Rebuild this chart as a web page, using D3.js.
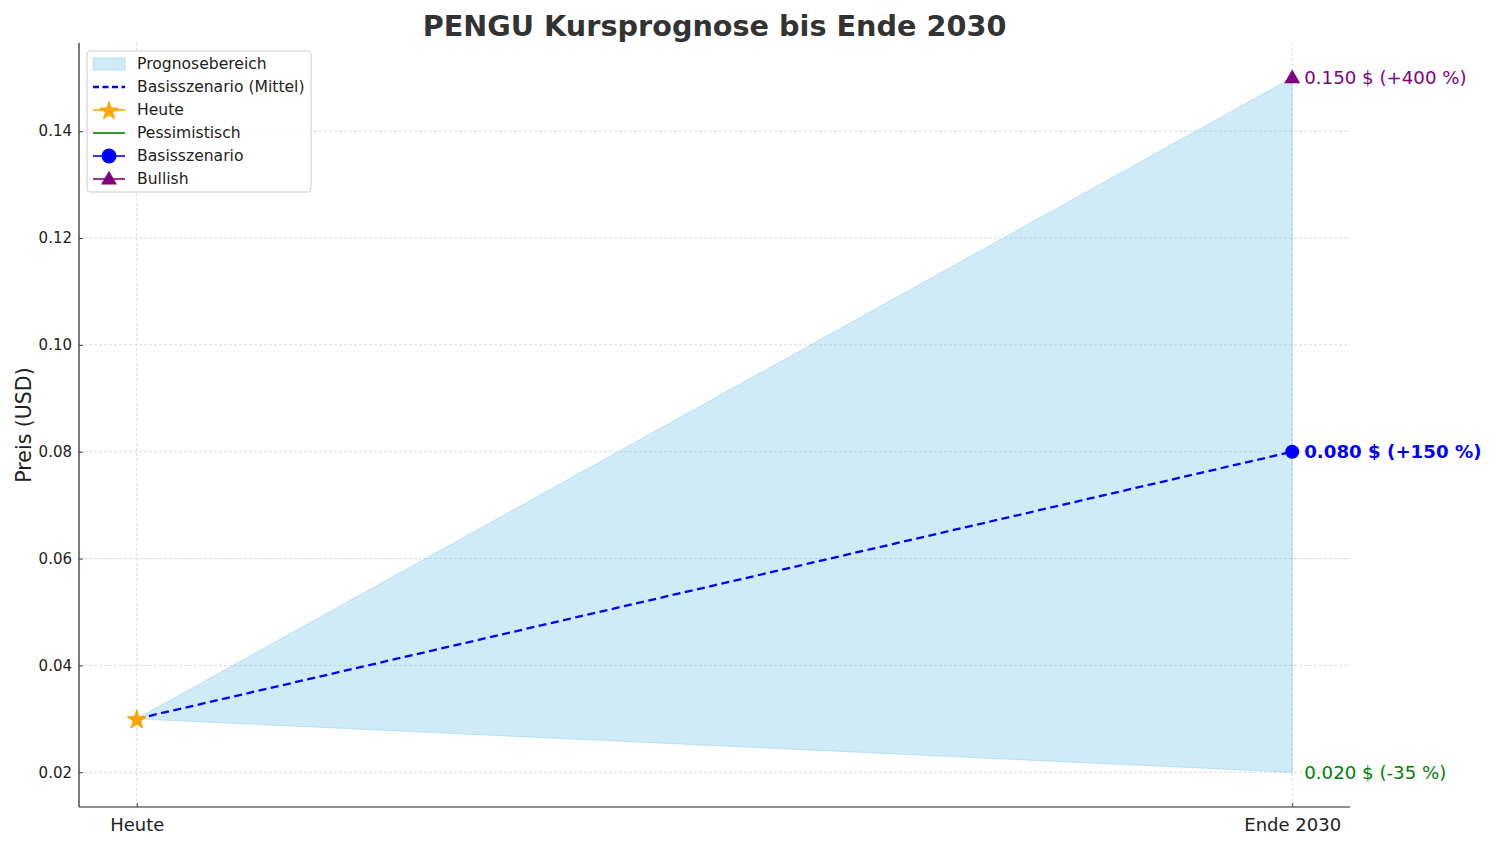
<!DOCTYPE html>
<html><head><meta charset="utf-8">
<script src="https://cdn.jsdelivr.net/npm/d3@7"></script>
<style>body{margin:0;background:#fff;font-family:"DejaVu Sans",sans-serif;}</style>
</head><body><svg id="c" width="1500" height="844"></svg>
<script>
const categories = ["Heute", "Ende 2030"];
const basePrice = [0.03, 0.08];
const lowPrice = [0.03, 0.02];
const highPrice = [0.03, 0.15];
const yTicks = [0.02, 0.04, 0.06, 0.08, 0.10, 0.12, 0.14];
const scenarioNames = ["Pessimistisch", "Basisszenario", "Bullish"];
const scenarioValues = [0.02, 0.08, 0.15];
const scenarioLabels = ["0.020 $ (-35 %)", "0.080 $ (+150 %)", "0.150 $ (+400 %)"];
const legendLabels = ["Prognosebereich", "Basisszenario (Mittel)", "Heute", "Pessimistisch", "Basisszenario", "Bullish"];

const svg = d3.select("#c");
const L = 79, R = 1350, T = 43, B = 807;
const x = d3.scaleLinear().domain([-0.05, 1.05]).range([L, R]);
const y = d3.scaleLinear().domain([0.0135, 0.1565]).range([B, T]);
const xi = i => x(i);

// grid
const g = svg.append("g");
g.selectAll("line.gy").data(yTicks).join("line")
  .attr("x1", L).attr("x2", R).attr("y1", d => y(d)).attr("y2", d => y(d))
  .attr("stroke", "#d0d0d0").attr("stroke-width", 0.8).attr("stroke-dasharray", "3,2");
g.selectAll("line.gx").data(categories).join("line")
  .attr("x1", (d, i) => xi(i)).attr("x2", (d, i) => xi(i)).attr("y1", T).attr("y2", B)
  .attr("stroke", "#d0d0d0").attr("stroke-width", 0.8).attr("stroke-dasharray", "3,2");

// area
const area = d3.area().x((d, i) => xi(i)).y0((d, i) => y(lowPrice[i])).y1((d, i) => y(highPrice[i]));
svg.append("path").datum(categories).attr("d", area)
  .attr("fill", "rgba(135,206,235,0.4)").attr("stroke", "rgba(135,206,235,0.5)").attr("stroke-width", 1);

// base line
const line = d3.line().x((d, i) => xi(i)).y(d => y(d));
svg.append("path").datum(basePrice).attr("d", line)
  .attr("fill", "none").attr("stroke", "#0000ff").attr("stroke-width", 2.3).attr("stroke-dasharray", "8,4.5");

// axes
const yAxis = d3.axisLeft(y).tickValues(yTicks).tickFormat(d3.format(".2f")).tickSize(-4).tickPadding(7);
const ya = svg.append("g").attr("transform", `translate(${L},0)`).call(yAxis);
ya.select(".domain").attr("d", `M0,${T}V${B}`).attr("stroke", "#222").attr("stroke-width", 1.2);
ya.selectAll("text").attr("font-size", 15).attr("fill", "#222").attr("font-family", "DejaVu Sans");
ya.selectAll(".tick line").attr("stroke", "#444");
const xAxis = d3.axisBottom(x).tickValues([0, 1]).tickFormat(i => categories[i]).tickSize(-4).tickPadding(11);
const xa = svg.append("g").attr("transform", `translate(0,${B})`).call(xAxis);
xa.select(".domain").attr("d", `M${L},0H${R}`).attr("stroke", "#222").attr("stroke-width", 1.2);
xa.selectAll("text").attr("font-size", 18).attr("fill", "#222").attr("font-family", "DejaVu Sans");
xa.selectAll(".tick line").attr("stroke", "#444");

// markers
const star = d3.symbol().type(d3.symbolStar).size(105);
svg.append("path").attr("d", star).attr("transform", `translate(${xi(0)},${y(basePrice[0]) + 1})`)
  .attr("fill", "#FFA500").attr("stroke", "#FFA500").attr("stroke-width", 1.2).attr("stroke-linejoin", "round");
svg.append("circle").attr("cx", xi(1)).attr("cy", y(scenarioValues[1])).attr("r", 7).attr("fill", "#0000ff");
const tri = d3.symbol().type(d3.symbolTriangle).size(110);
svg.append("path").attr("d", tri).attr("transform", `translate(${xi(1)},${y(scenarioValues[2]) + 1})`).attr("fill", "#800080");

// labels
const lblColors = ["#008000", "#0000ff", "#800080"];
scenarioLabels.forEach((t, i) => {
  svg.append("text").attr("x", xi(1) + 12).attr("y", y(scenarioValues[i])).attr("dy", "0.35em")
    .attr("font-size", 18.2).attr("fill", lblColors[i]).attr("font-weight", i === 1 ? "bold" : "normal").text(t);
});

// title & y label
svg.append("text").attr("x", (L + R) / 2).attr("y", 36).attr("text-anchor", "middle")
  .attr("font-size", 28.7).attr("font-weight", "bold").attr("fill", "#333").text("PENGU Kursprognose bis Ende 2030");
svg.append("text").attr("transform", `translate(31,${(T + B) / 2}) rotate(-90)`).attr("text-anchor", "middle")
  .attr("font-size", 20.5).attr("fill", "#222").text("Preis (USD)");

// legend
const lg = svg.append("g").attr("transform", "translate(87,51)");
lg.append("rect").attr("width", 224).attr("height", 141).attr("rx", 3)
  .attr("fill", "rgba(255,255,255,0.85)").attr("stroke", "#ccc");
legendLabels.forEach((t, i) => {
  const yy = 13 + i * 23;
  const e = lg.append("g").attr("transform", `translate(0,${yy})`);
  if (i === 0) {
    e.append("rect").attr("x", 6).attr("y", -6).attr("width", 32).attr("height", 12)
      .attr("fill", "rgba(135,206,235,0.4)").attr("stroke", "rgba(135,206,235,0.5)");
  } else if (i === 1) {
    e.append("line").attr("x1", 6).attr("x2", 38).attr("stroke", "#0000ff").attr("stroke-width", 2.3).attr("stroke-dasharray", "6,3.5");
  } else {
    const col = ["#FFA500", "#008000", "#0000ff", "#800080"][i - 2];
    e.append("line").attr("x1", 6).attr("x2", 38).attr("stroke", col).attr("stroke-width", 1.6);
    if (i === 2) e.append("path").attr("d", d3.symbol().type(d3.symbolStar).size(95)).attr("transform", "translate(22,1)")
      .attr("fill", col).attr("stroke", col).attr("stroke-width", 1.2).attr("stroke-linejoin", "round");
    if (i === 4) e.append("circle").attr("cx", 22).attr("r", 7.5).attr("fill", col);
    if (i === 5) e.append("path").attr("d", d3.symbol().type(d3.symbolTriangle).size(110)).attr("transform", "translate(22,1)").attr("fill", col);
  }
  e.append("text").attr("x", 50).attr("dy", "0.35em").attr("font-size", 15.6).attr("fill", "#222").text(t);
});
</script></body></html>
